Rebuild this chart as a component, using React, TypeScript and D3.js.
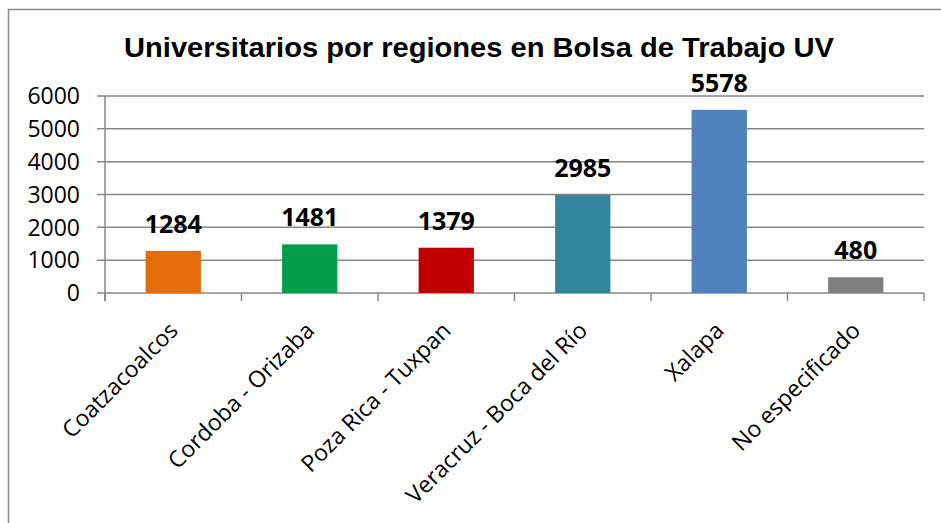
import React from "react";
import * as d3 from "d3";

const categories = [
  "Coatzacoalcos",
  "Cordoba - Orizaba",
  "Poza Rica - Tuxpan",
  "Veracruz - Boca del Río",
  "Xalapa",
  "No especificado",
];
const values = [1284, 1481, 1379, 2985, 5578, 480];
const colors = ["#E46C0A", "#00A04B", "#C00000", "#31859C", "#4F81BD", "#808080"];
const yTicks = [0, 1000, 2000, 3000, 4000, 5000, 6000];
const title = "Universitarios por regiones en Bolsa de Trabajo UV";

export default function App() {
  const W = 941;
  const H = 523;
  const x0 = 105;
  const x1 = 924;
  const yTop = 96;
  const yBot = 293;
  const x = d3.scaleBand<string>().domain(categories).range([x0, x1]).padding(0);
  const y = d3.scaleLinear().domain([0, 6000]).range([yBot, yTop]);
  const bw = x.bandwidth() * 0.405;
  const grid = "#878787";
  const boundaries = categories.map((c) => x(c) as number).concat([x1]);

  return (
    <svg
      width={W}
      height={H}
      style={{ position: "absolute", left: 0, top: 0, background: "#fff" }}
    >
      <rect x={0} y={0} width={W} height={H} fill="#fff" />
      {/* chart border */}
      <path d={`M${W + 5},9.5 H8.5 V${H + 5}`} fill="none" stroke="#8a8a8a" strokeWidth={1.5} />
      <text
        x={479}
        y={57}
        textAnchor="middle"
        fontFamily="Liberation Sans, Arial, sans-serif"
        fontWeight="bold"
        fontSize={28}
        textLength={710}
        lengthAdjust="spacingAndGlyphs"
        fill="#000"
      >
        {title}
      </text>
      {/* gridlines */}
      {yTicks.map((t) => (
        <line key={t} x1={97} x2={x1} y1={y(t)} y2={y(t)} stroke={grid} strokeWidth={1.5} />
      ))}
      {/* y axis */}
      <line x1={x0} x2={x0} y1={yTop} y2={yBot + 8} stroke={grid} strokeWidth={1.5} />
      {boundaries.map((b, i) => (
        <line key={i} x1={b} x2={b} y1={yBot} y2={yBot + 8} stroke={grid} strokeWidth={1.5} />
      ))}
      {yTicks.map((t) => (
        <text
          key={t}
          x={80}
          y={y(t)}
          dy="0.36em"
          textAnchor="end"
          fontFamily="Open Sans, sans-serif"
          fontSize={23}
          fill="#000"
        >
          {t}
        </text>
      ))}
      {/* bars */}
      {categories.map((c, i) => {
        const cx = (x(c) as number) + x.bandwidth() / 2;
        return (
          <g key={c}>
            <rect
              x={cx - bw / 2}
              y={y(values[i])}
              width={bw}
              height={yBot - y(values[i])}
              fill={colors[i]}
            />
            <text
              x={cx}
              y={y(values[i]) - 18}
              textAnchor="middle"
              fontFamily="Open Sans, sans-serif"
              fontWeight="bold"
              fontSize={25}
              fill="#000"
            >
              {values[i]}
            </text>
            <text
              transform={`translate(${cx + 6},${332}) rotate(-45)`}
              textAnchor="end"
              fontFamily="Open Sans, sans-serif"
              fontSize={23}
              fill="#000"
            >
              {c}
            </text>
          </g>
        );
      })}
    </svg>
  );
}
